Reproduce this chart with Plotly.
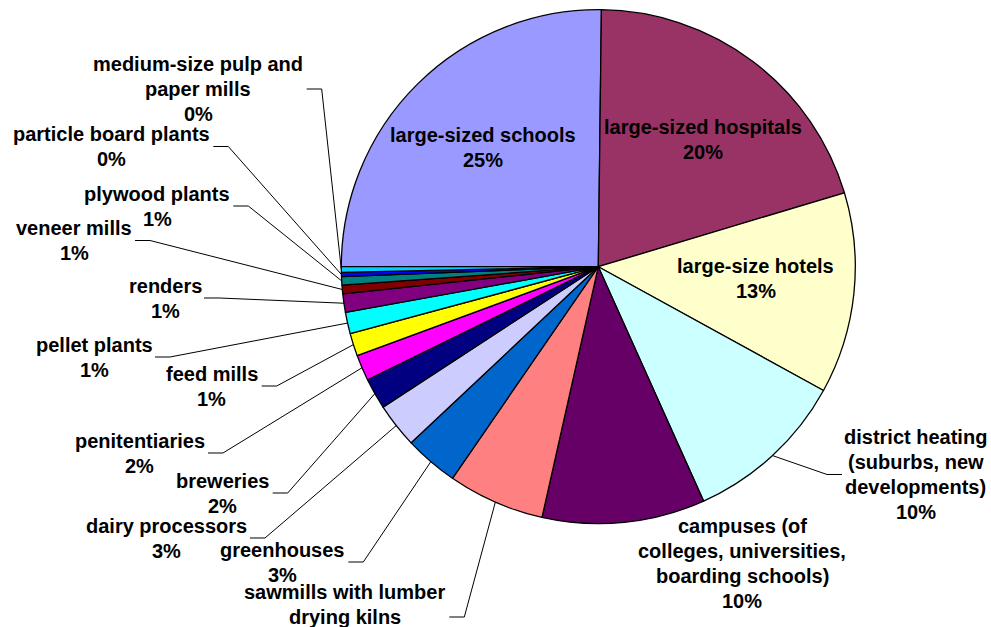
import math
import plotly.graph_objects as go

# ---------------- data ----------------
categories = [
    "large-sized schools", "large-sized hospitals", "large-size hotels",
    "district heating (suburbs, new developments)",
    "campuses (of colleges, universities, boarding schools)",
    "sawmills with lumber drying kilns", "greenhouses", "dairy processors",
    "breweries", "penitentiaries", "feed mills", "pellet plants", "renders",
    "veneer mills", "plywood plants", "particle board plants",
    "medium-size pulp and paper mills",
]
label_lines = [
    ["large-sized schools"], ["large-sized hospitals"], ["large-size hotels"],
    ["district heating", "(suburbs, new", "developments)"],
    ["campuses (of", "colleges, universities,", "boarding schools)"],
    ["sawmills with lumber", "drying kilns"], ["greenhouses"], ["dairy processors"],
    ["breweries"], ["penitentiaries"], ["feed mills"], ["pellet plants"], ["renders"],
    ["veneer mills"], ["plywood plants"], ["particle board plants"],
    ["medium-size pulp and", "paper mills"],
]
values = [25.2, 20.17, 12.65, 10.28, 10.24, 6.09, 3.38, 2.82, 1.95, 1.63,
          1.43, 1.34, 1.16, 0.55, 0.52, 0.27, 0.35]
colors = ["#9999FF", "#993366", "#FFFFCC", "#CCFFFF", "#660066", "#FF8080",
          "#0066CC", "#CCCCFF", "#000080", "#FF00FF", "#FFFF00", "#00FFFF",
          "#800080", "#800000", "#008080", "#0000FF", "#00CCFF"]

# ---------------- layout (pixels) ----------------
W, H = 991, 627
CX, CY, R = 598.3, 266.7, 257.0
START_DEG = 270
LINE_H = 25.0

# label block centres (px)
label_x = [482.5, 702.8, 755.5, 915.8, 742, 344.7, 282, 166, 222, 139.5,
           211.5, 94, 165, 74, 157, 111, 198]
label_y = [147.5, 139.2, 278.3, 474.5, 563, 617, 562, 538, 493, 453,
           386, 357, 298, 240.5, 206, 146.5, 89]
# leader line start x (px) at label side; None = no leader
leader_x = [None, None, None, 842, None, 449.3, 348.3, 250, 272.7, 208,
            261.7, 155, 204, 135, 233.3, 213.3, 306.7]
KNEE = 15


def px(x):
    return x / W


def py(y):
    return 1 - y / H


total = sum(values)

fig = go.Figure(go.Pie(
    labels=categories,
    values=values,
    sort=False,
    direction="clockwise",
    rotation=START_DEG,
    marker=dict(colors=colors, line=dict(color="black", width=1.3)),
    textinfo="none",
    hoverinfo="label+percent",
    showlegend=False,
    domain=dict(x=[px(CX - R), px(CX + R)], y=[py(CY + R), py(CY - R)]),
))

annotations = []
shapes = []
cum = 0.0
for i, v in enumerate(values):
    pct = round(v / total * 100)
    lines = label_lines[i] + ["%d%%" % pct]
    n = len(lines)
    for k, t in enumerate(lines):
        yk = label_y[i] + (k - (n - 1) / 2) * LINE_H
        annotations.append(dict(
            x=px(label_x[i]), y=py(yk), xref="paper", yref="paper",
            text="<b>%s</b>" % t,
            showarrow=False, xanchor="center", yanchor="middle", align="center",
            font=dict(family="Liberation Sans, Arial, sans-serif", size=20, color="black"),
        ))
    mid = math.radians(START_DEG + 360 * (cum + v / 2) / total)
    cum += v
    if leader_x[i] is not None:
        ex = CX + R * math.sin(mid)
        ey = CY - R * math.cos(mid)
        sx = leader_x[i]
        sy = label_y[i]
        kx = sx + (KNEE if ex > sx else -KNEE)
        path = "M %f,%f L %f,%f L %f,%f" % (px(sx), py(sy), px(kx), py(sy), px(ex), py(ey))
        shapes.append(dict(type="path", xref="paper", yref="paper", path=path,
                           line=dict(color="black", width=1)))

fig.update_layout(
    width=W, height=H,
    margin=dict(l=0, r=0, t=0, b=0),
    paper_bgcolor="white", plot_bgcolor="white",
    annotations=annotations, shapes=shapes,
)

fig.write_html("out.html",
               config={"displayModeBar": False},
               post_script="document.body.style.margin='0';document.body.style.overflow='hidden';")
